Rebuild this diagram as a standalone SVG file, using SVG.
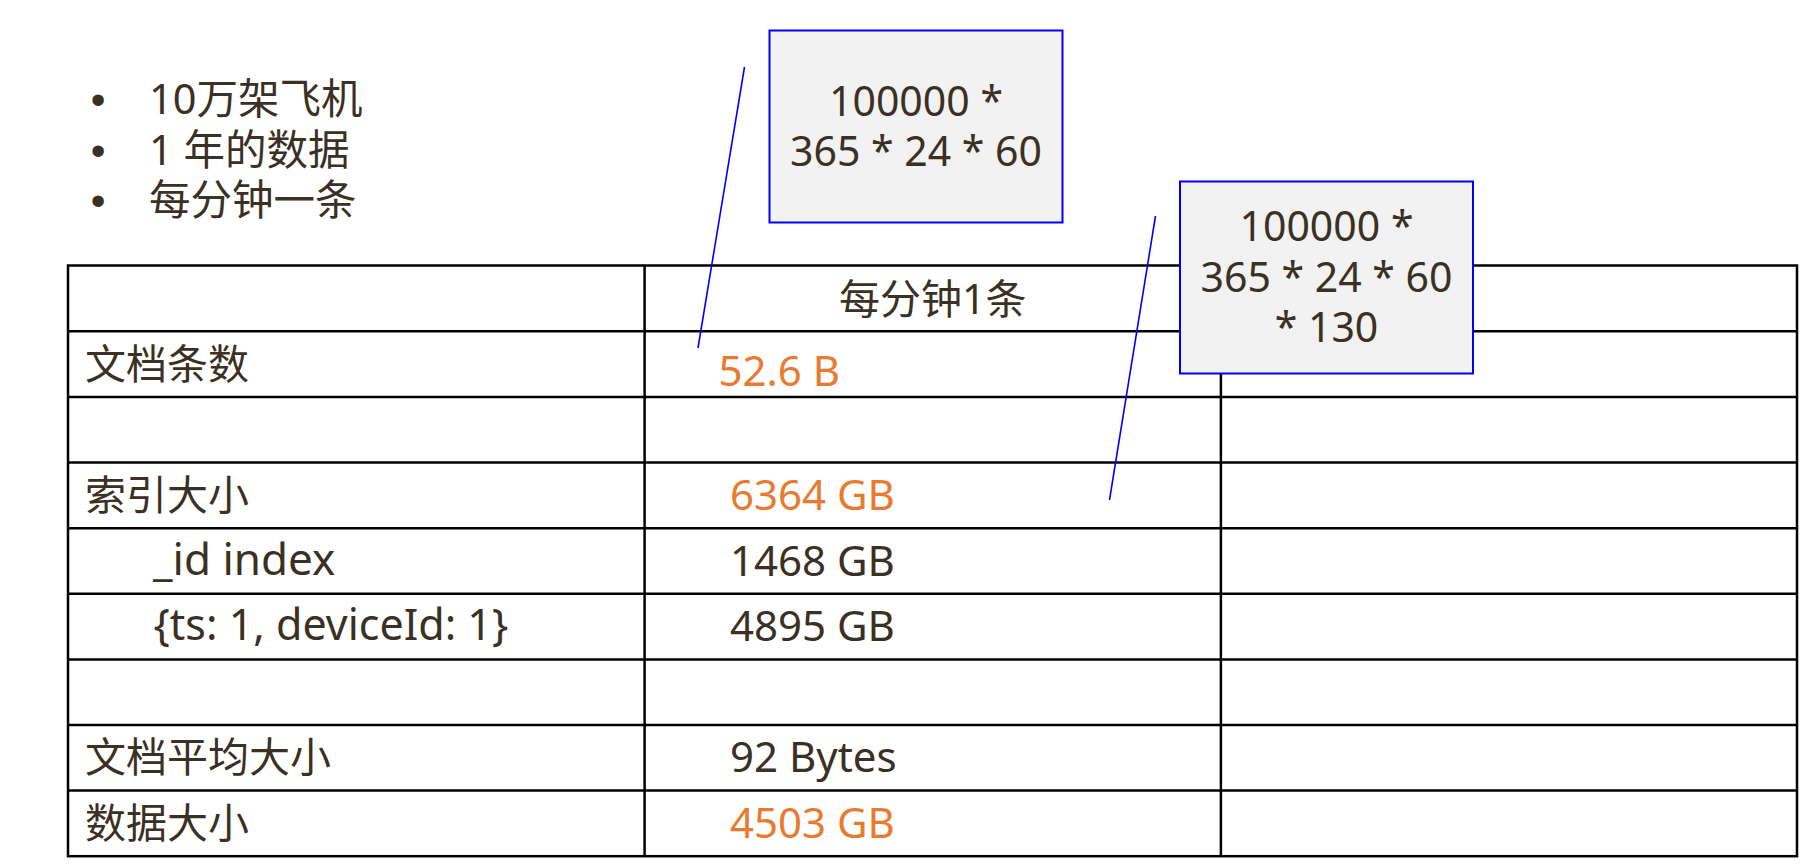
<svg xmlns="http://www.w3.org/2000/svg" width="1818" height="868" viewBox="0 0 1818 868">
<style>
  .t { font-family: "Noto Sans", "Noto Sans CJK SC", sans-serif; font-size: 41px; fill: #3a3024; }
  .v { font-size: 42px; }
  .b { font-family: "Liberation Sans", sans-serif; font-size: 42px; fill: #3a3024; text-anchor: middle; }
  .o { fill: #e87b30; }
  .grid { stroke: #000; stroke-width: 2.5; fill: none; }
  .box { fill: #f2f2f2; stroke: #0000ff; stroke-width: 2; }
  .conn { stroke: #0000ff; stroke-width: 1.6; fill: none; }
  .c { text-anchor: middle; }
</style>
<rect width="1818" height="868" fill="#fff"/>
<g id="bullets">
  <text class="b" x="98" y="114">•</text>
  <text class="t" x="149" y="114" style="font-size:41.5px">10万架飞机</text>
  <text class="b" x="98" y="165">•</text>
  <text class="t" x="149" y="165" style="font-size:41.5px">1 年的数据</text>
  <text class="b" x="98" y="215">•</text>
  <text class="t" x="149" y="215" style="font-size:41.5px">每分钟一条</text>
</g>
<g id="table">
  <g class="grid">
    <rect x="68" y="265.5" width="1729" height="590.7"/>
    <line x1="644.6" y1="265.5" x2="644.6" y2="856.2"/>
    <line x1="1220.9" y1="265.5" x2="1220.9" y2="856.2"/>
    <line x1="68" y1="331.3" x2="1797" y2="331.3"/>
    <line x1="68" y1="397" x2="1797" y2="397"/>
    <line x1="68" y1="462.6" x2="1797" y2="462.6"/>
    <line x1="68" y1="528.2" x2="1797" y2="528.2"/>
    <line x1="68" y1="593.8" x2="1797" y2="593.8"/>
    <line x1="68" y1="659.4" x2="1797" y2="659.4"/>
    <line x1="68" y1="725" x2="1797" y2="725"/>
    <line x1="68" y1="790.6" x2="1797" y2="790.6"/>
  </g>
  <text class="t c" x="932.7" y="314">每分钟1条</text>
  <text class="t" x="85" y="379">文档条数</text>
  <text class="t v o" x="718.5" y="386">52.6 B</text>
  <text class="t" x="85" y="510">索引大小</text>
  <text class="t v o" x="730" y="510">6364 GB</text>
  <text class="t" x="153" y="575" style="font-size:44px">_id index</text>
  <text class="t v" x="730" y="576">1468 GB</text>
  <text class="t" x="153.5" y="640" style="font-size:43px">{ts: 1, deviceId: 1}</text>
  <text class="t v" x="730" y="641">4895 GB</text>
  <text class="t" x="85" y="772">文档平均大小</text>
  <text class="t v" x="730" y="772">92 Bytes</text>
  <text class="t" x="85" y="838">数据大小</text>
  <text class="t v o" x="730" y="838">4503 GB</text>
</g>
<g id="connectors">
  <line class="conn" x1="744.5" y1="67" x2="698" y2="348"/>
  <line class="conn" x1="1155.5" y1="216" x2="1109.5" y2="500"/>
</g>
<g id="note1">
  <rect class="box" x="769.5" y="30.5" width="293" height="192"/>
  <text class="t c" x="916" y="116">100000 *</text>
  <text class="t c" x="916" y="166">365 * 24 * 60</text>
</g>
<g id="note2">
  <rect class="box" x="1180" y="181.5" width="293" height="192"/>
  <text class="t c" x="1326.5" y="240.7">100000 *</text>
  <text class="t c" x="1326.5" y="291.7">365 * 24 * 60</text>
  <text class="t c" x="1326.5" y="341.7">* 130</text>
</g>
</svg>
